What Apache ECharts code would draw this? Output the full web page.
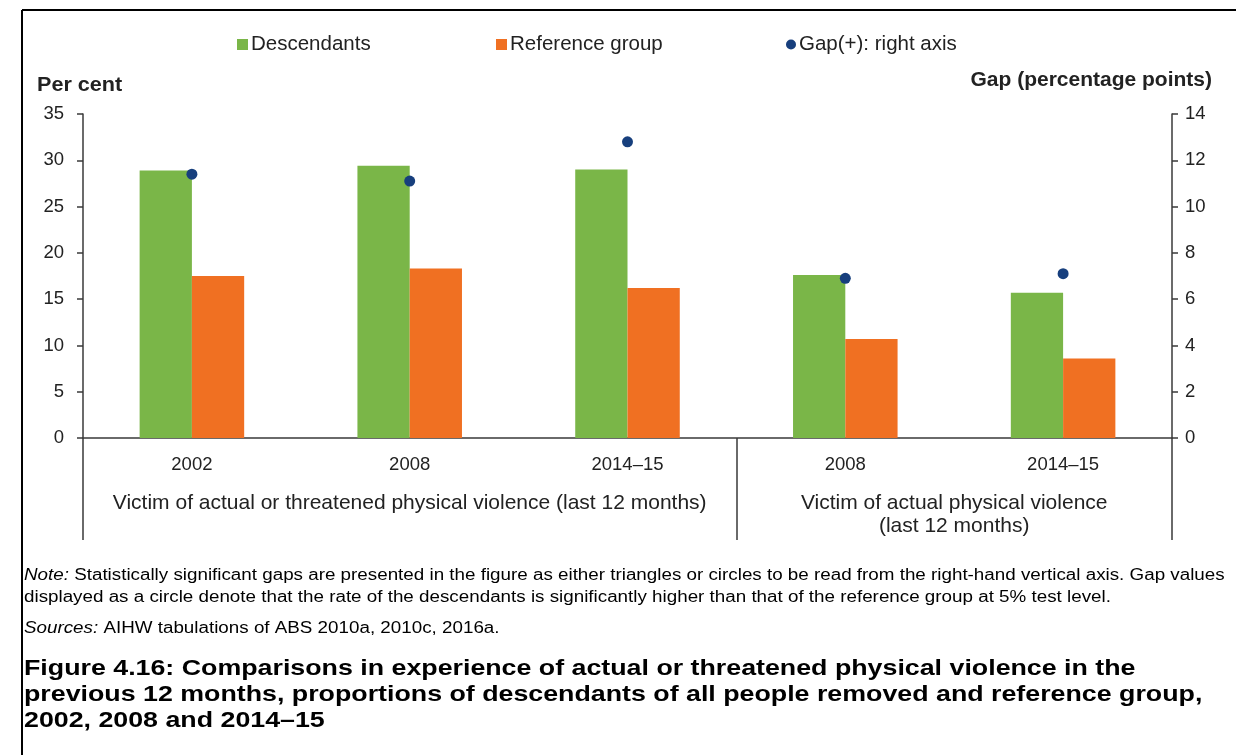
<!DOCTYPE html>
<html>
<head>
<meta charset="utf-8">
<script src="https://cdn.jsdelivr.net/npm/echarts@6/dist/echarts.min.js"></script>
<style>
  html, body { margin: 0; padding: 0; background: #fff; }
  #chart { width: 1236px; height: 755px; }
</style>
</head>
<body>
<div id="chart"></div>
<script>
// Survey waves, grouped by the violence measure
const categories = ['2002', '2008', '2014–15', '2008', '2014–15'];
const groupLabels = [
  'Victim of actual or threatened physical violence (last 12 months)',
  'Victim of actual physical violence\n(last 12 months)'
];
// Position of each group label on the 0–5 category span, and group boundaries
const groupCentres = [1.5, 4];
const groupBounds = [0, 3, 5];

// Per cent of each population
const descendants = [28.9, 29.4, 29.0, 17.6, 15.7];
const referenceGroup = [17.5, 18.3, 16.2, 10.7, 8.6];
// Gap in percentage points (right axis)
const gap = [11.4, 11.1, 12.8, 6.9, 7.1];

const leftTicks = { min: 0, max: 35, interval: 5 };
const rightTicks = { min: 0, max: 14, interval: 2 };

const FONT = '"Liberation Sans", Arial, sans-serif';
const TEXT = '#222';
const AXIS = '#3a3a3a';
const GREEN = '#7ab648';
const ORANGE = '#f07022';
const BLUE = '#173f7d';

const legendText = { fontSize: 20.5, color: TEXT, fontFamily: FONT, padding: [0, 0, 0, -2] };

const chart = echarts.init(document.getElementById('chart'), null, { renderer: 'canvas' });

chart.setOption({
  backgroundColor: '#fff',
  animation: false,
  textStyle: { fontFamily: FONT },
  grid: { left: 83, right: 64, top: 114, bottom: 317, containLabel: false },
  legend: [
    {
      left: 232, top: 29, itemWidth: 11, itemHeight: 11, itemGap: 0,
      data: [{ name: 'Descendants', icon: 'rect' }],
      textStyle: legendText
    },
    {
      left: 491, top: 29, itemWidth: 11, itemHeight: 11, itemGap: 0,
      data: [{ name: 'Reference group', icon: 'rect' }],
      textStyle: legendText
    },
    {
      left: 781, top: 29, itemWidth: 10, itemHeight: 10, itemGap: 0,
      data: [{ name: 'Gap(+): right axis', icon: 'circle' }],
      textStyle: legendText
    }
  ],
  xAxis: [
    {
      type: 'category',
      data: categories,
      position: 'bottom',
      axisLine: { show: true, lineStyle: { color: AXIS, width: 1.5 } },
      axisTick: { show: false },
      axisLabel: { fontSize: 18.5, color: TEXT, margin: 17, fontFamily: FONT }
    },
    {
      // Spans the same width as the categories; marks group boundaries and names
      type: 'value',
      min: 0, max: 5,
      position: 'bottom',
      axisLine: { show: false },
      splitLine: { show: false },
      axisTick: {
        show: true, inside: false, length: 102,
        customValues: groupBounds,
        lineStyle: { color: AXIS, width: 1.5 }
      },
      axisLabel: {
        show: true,
        customValues: groupCentres,
        margin: 54,
        fontSize: 21, color: TEXT, fontFamily: FONT, lineHeight: 23,
        align: 'center',
        formatter: function (v) {
          const i = groupCentres.indexOf(v);
          return i >= 0 ? groupLabels[i] : '';
        }
      }
    }
  ],
  yAxis: [
    {
      type: 'value',
      min: leftTicks.min, max: leftTicks.max, interval: leftTicks.interval,
      position: 'left',
      axisLine: { show: true, lineStyle: { color: AXIS, width: 1.5 } },
      axisTick: { show: true, inside: false, length: 6, lineStyle: { color: AXIS, width: 1.5 } },
      splitLine: { show: false },
      axisLabel: { fontSize: 18.5, color: TEXT, margin: 19, fontFamily: FONT }
    },
    {
      type: 'value',
      min: rightTicks.min, max: rightTicks.max, interval: rightTicks.interval,
      position: 'right',
      axisLine: { show: true, lineStyle: { color: AXIS, width: 1.5 } },
      axisTick: { show: true, inside: false, length: 6, lineStyle: { color: AXIS, width: 1.5 } },
      splitLine: { show: false },
      axisLabel: { fontSize: 18.5, color: TEXT, margin: 13, fontFamily: FONT }
    }
  ],
  series: [
    {
      name: 'Descendants',
      type: 'bar',
      xAxisIndex: 0, yAxisIndex: 0,
      data: descendants,
      barGap: '0%',
      barCategoryGap: '52%',
      itemStyle: { color: GREEN }
    },
    {
      name: 'Reference group',
      type: 'bar',
      xAxisIndex: 0, yAxisIndex: 0,
      data: referenceGroup,
      itemStyle: { color: ORANGE }
    },
    {
      name: 'Gap(+): right axis',
      type: 'scatter',
      xAxisIndex: 0, yAxisIndex: 1,
      data: gap,
      symbol: 'circle',
      symbolSize: 11,
      itemStyle: { color: BLUE, opacity: 1 },
      z: 5
    }
  ],
  graphic: [
    // outer frame (top and left edges)
    { type: 'line', shape: { x1: 22, y1: 10, x2: 1236, y2: 10 }, style: { stroke: '#000', lineWidth: 2 } },
    { type: 'line', shape: { x1: 22, y1: 10, x2: 22, y2: 755 }, style: { stroke: '#000', lineWidth: 2 } },
    // axis titles
    {
      type: 'text', x: 37, y: 85, scaleX: 1.08,
      style: { text: 'Per cent', font: 'bold 20px ' + FONT, fill: TEXT, verticalAlign: 'middle' }
    },
    {
      type: 'text', x: 1212, y: 80, scaleX: 1.05,
      style: { text: 'Gap (percentage points)', font: 'bold 20px ' + FONT, fill: TEXT, align: 'right', verticalAlign: 'middle' }
    },
    // note and sources
    {
      type: 'text', x: 24, y: 565, scaleX: 1.175,
      style: {
        text: '{i|Note:} Statistically significant gaps are presented in the figure as either triangles or circles to be read from the right-hand vertical axis. Gap values\n' +
              'displayed as a circle denote that the rate of the descendants is significantly higher than that of the reference group at 5% test level.',
        font: '16px ' + FONT, fill: '#000', lineHeight: 22, verticalAlign: 'top',
        rich: { i: { font: 'italic 16px ' + FONT, fill: '#000', lineHeight: 22 } }
      }
    },
    {
      type: 'text', x: 24, y: 618, scaleX: 1.175,
      style: {
        text: '{i|Sources:} AIHW tabulations of ABS 2010a, 2010c, 2016a.',
        font: '16px ' + FONT, fill: '#000', lineHeight: 22, verticalAlign: 'top',
        rich: { i: { font: 'italic 16px ' + FONT, fill: '#000', lineHeight: 22 } }
      }
    },
    // figure caption
    {
      type: 'text', x: 24, y: 656, scaleX: 1.19,
      style: {
        text: 'Figure 4.16: Comparisons in experience of actual or threatened physical violence in the\n' +
              'previous 12 months, proportions of descendants of all people removed and reference group,\n' +
              '2002, 2008 and 2014–15',
        font: 'bold 22.5px ' + FONT, fill: '#000', lineHeight: 26, verticalAlign: 'top'
      }
    }
  ]
});
</script>
</body>
</html>
